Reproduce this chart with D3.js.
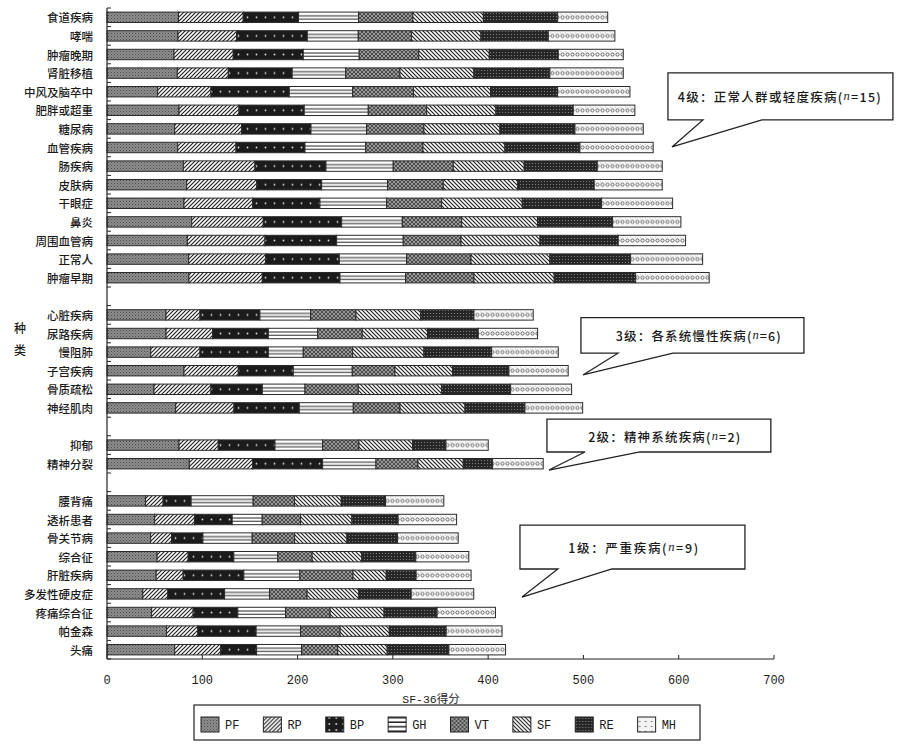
<!DOCTYPE html>
<html><head><meta charset="utf-8">
<script src="https://cdn.jsdelivr.net/npm/d3@7"></script>
<style>body{margin:0;background:#fff}svg{display:block}</style>
</head><body><svg id="chart" width="911" height="744"></svg>
<script>
// ---------------- data ----------------
const categories = ["食道疾病","哮喘","肿瘤晚期","肾脏移植","中风及脑卒中","肥胖或超重","糖尿病","血管疾病","肠疾病","皮肤病","干眼症","鼻炎","周围血管病","正常人","肿瘤早期",
  "心脏疾病","尿路疾病","慢阻肺","子宫疾病","骨质疏松","神经肌肉",
  "抑郁","精神分裂",
  "腰背痛","透析患者","骨关节病","综合征","肝脏疾病","多发性硬皮症","疼痛综合征","帕金森","头痛"];
const grades = [4,4,4,4,4,4,4,4,4,4,4,4,4,4,4, 3,3,3,3,3,3, 2,2, 1,1,1,1,1,1,1,1,1];
const seriesKeys = ["PF","RP","BP","GH","VT","SF","RE","MH"];
const PF = [75,74.5,70.3,73.8,53.2,75.6,71,74.2,80.1,83.6,80.8,88.9,84.3,85.7,86, 61.9,61.9,45.9,80.8,49.3,72.1, 75.6,86.4, 40.5,50,45.8,52.6,51.6,37.6,46.8,62.5,71];
const RP = [68,61.6,62.2,53.5,55.9,62.9,70.3,61.2,75.2,73.5,72.1,75.1,81.5,80.8,77, 35.7,49,51.7,57,59.8,61.2, 41.2,66.5, 18.4,42,22,32.6,28.3,26.3,43.6,32.8,48.3];
const BP = [58,74.1,73.5,67.1,82.2,68.5,72.8,72.4,74.5,68.2,70.6,82.3,75.2,77.3,81.5, 62.9,58.4,71.7,57.7,53.9,68.5, 59.5,73.4, 29.4,39.4,32.9,47.9,63.7,59.5,46.9,61.2,37.7];
const GH = [63,53.5,58.7,56.1,66.5,67.2,58.4,63.7,70.6,69.2,70,63.6,69.9,70.7,68.9, 53.2,51.8,36.7,61.9,44.8,56.7, 50,56, 65.1,31.5,51.7,46.2,58.8,47.2,50.1,46.6,47.3];
const VT = [57,56,62.5,57,63.8,61.3,60.1,60.1,63,58.4,57.7,62.3,60.6,67.5,71.7, 47.6,46.8,51.8,44.8,55.9,49, 38.1,44, 43.4,40.3,44.5,36,55.8,39.4,46.8,41.6,37.8];
const SF = [74,72.7,74,77.6,81,72.7,79.8,86,74.5,78.1,84.6,79.7,82.9,82.9,84.3, 67.9,68.4,74.8,60.5,87.5,68.2, 56.4,47.6, 49.1,53.8,54.9,52.1,34.9,54.3,56.6,51.6,52];
const RE = [78,70.7,72.4,79.7,70.3,81.1,78.7,78.7,76.6,80.3,83.3,78.7,82.1,84.6,85.4, 55.9,53.3,71.1,59.1,72.4,62.9, 34.9,30.8, 46.4,48.5,53,56.7,31.3,54.9,55.6,59.6,64.7];
const MH = [52.5,69.9,68.2,77,75.9,64.7,71.7,76.9,68.2,71.4,74.5,71.7,70.7,75.6,77.2, 62.2,62.3,69.9,62.2,64,60.6, 44.4,53.1, 61.2,61.4,63.8,55.6,57.7,65.7,61.3,58.7,59.5];
const xTicks = [0,100,200,300,400,500,600,700];
const xTitle = "SF-36得分";
const yTitle = ["种","类"];
// callouts: x in score units, y in slot units
const calloutTexts = ["4级：正常人群或轻度疾病(", "3级：各系统慢性疾病(", "2级：精神系统疾病(", "1级：严重疾病("];
const calloutN = ["15","6","2","9"];
const calloutGeom = [
  {x1:588.7,x2:824.8,y1:3.49,y2:6.02,b1:625.4,b2:687.3,tx:592.9,ty:7.47,textX:599,len:203},
  {x1:497.4,x2:731.4,y1:16.65,y2:18.56,b1:536.2,b2:593.9,tx:499.5,ty:19.73,textX:534,len:165},
  {x1:461.7,x2:696.7,y1:22.1,y2:23.87,b1:501.6,b2:559.3,tx:463.8,ty:24.84,textX:505,len:152},
  {x1:433.4,x2:669.5,y1:27.8,y2:30.16,b1:473.2,b2:529.9,tx:435.5,ty:31.67,textX:484,len:130}
];

// ---------------- build ----------------
const series = {PF,RP,BP,GH,VT,SF,RE,MH};
const rows = categories.map((c,i)=>{const o={name:c}; seriesKeys.forEach(k=>o[k]=series[k][i]); return o;});
const slots = [];
categories.forEach((c,i)=>{ if(i>0 && grades[i]!==grades[i-1]) slots.push("gap"+i); slots.push(c); });

const svg = d3.select("#chart");
const yTop = 8, yBottom = 659;
const x = d3.scaleLinear().domain([0,700]).range([107,774]);
const y = d3.scaleBand().domain(slots).range([yTop,yBottom]).paddingInner(0.44).paddingOuter(0.22);
const ys = d3.scaleLinear().domain([0,slots.length]).range([yTop,yBottom]);
const bw = y.bandwidth(), step = y.step();
const bandOff = y(slots[0]) - yTop;
const ink = "#1a1a1a";

// patterns
const defs = svg.append("defs");
function pat(id,w,h,yOrigin){ return defs.append("pattern").attr("id",id).attr("patternUnits","userSpaceOnUse").attr("width",w).attr("height",h).attr("x",0).attr("y",yOrigin||0); }
function simple(id){
  let p;
  if(id==="PF"){p=pat("p-PF",3,3); p.append("rect").attr("width",3).attr("height",3).attr("fill","#8e8e8e");
    p.append("rect").attr("width",1).attr("height",1).attr("fill","#4a4a4a");
    p.append("rect").attr("x",1.5).attr("y",1.5).attr("width",1).attr("height",1).attr("fill","#5a5a5a");}
  if(id==="RP"){p=pat("p-RP",4,4); p.append("rect").attr("width",4).attr("height",4).attr("fill","#fff");
    p.append("path").attr("d","M-1,1 L1,-1 M0,4 L4,0 M3,5 L5,3").attr("stroke","#222").attr("stroke-width",1.2);}
  if(id==="VT"){p=pat("p-VT",4,4); p.append("rect").attr("width",4).attr("height",4).attr("fill","#4d4d4d");
    p.append("path").attr("d","M0,0 L4,4 M4,0 L0,4").attr("stroke","#b8b8b8").attr("stroke-width",0.7);}
  if(id==="SF"){p=pat("p-SF",4,4); p.append("rect").attr("width",4).attr("height",4).attr("fill","#fff");
    p.append("path").attr("d","M-1,3 L1,5 M0,0 L4,4 M3,-1 L5,1").attr("stroke","#222").attr("stroke-width",1.2);}
  if(id==="RE"){p=pat("p-RE",3,3); p.append("rect").attr("width",3).attr("height",3).attr("fill","#262626");
    p.append("circle").attr("cx",1.5).attr("cy",1.5).attr("r",0.6).attr("fill","#8a8a8a");}
}
["PF","RP","VT","SF","RE"].forEach(simple);
let p;
// band-aligned patterns for bars
p = pat("p-BP",9,step,yTop); p.append("rect").attr("width",9).attr("height",step).attr("fill","#1b1b1b");
p.append("circle").attr("cx",4.5).attr("cy",bandOff+bw/2).attr("r",0.9).attr("fill","#ddd");
p = pat("p-GH",10,step,yTop); p.append("rect").attr("width",10).attr("height",step).attr("fill","#fff");
p.append("path").attr("d",`M0,${bandOff+bw*0.36} H10 M0,${bandOff+bw*0.66} H10`).attr("stroke","#222").attr("stroke-width",1.1);
p = pat("p-MH",5,step,yTop); p.append("rect").attr("width",5).attr("height",step).attr("fill","#fafafa");
p.append("circle").attr("cx",2.5).attr("cy",bandOff+bw/2).attr("r",1.6).attr("fill","none").attr("stroke","#444").attr("stroke-width",0.8);
p.append("circle").attr("cx",0).attr("cy",bandOff+bw*0.2).attr("r",0.5).attr("fill","#666");
// legend versions
p = pat("l-BP",7,6,717); p.append("rect").attr("width",7).attr("height",6).attr("fill","#1b1b1b");
p.append("circle").attr("cx",3.5).attr("cy",4).attr("r",0.9).attr("fill","#ddd");
p = pat("l-GH",10,4.5,717); p.append("rect").attr("width",10).attr("height",4.5).attr("fill","#fff");
p.append("rect").attr("y",3).attr("width",10).attr("height",1.5).attr("fill","#222");
p = pat("l-MH",6,5,717); p.append("rect").attr("width",6).attr("height",5).attr("fill","#f4f4f4");
p.append("circle").attr("cx",2).attr("cy",2.5).attr("r",0.7).attr("fill","#444");
const legendFill = k => (k==="BP"||k==="GH"||k==="MH") ? `url(#l-${k})` : `url(#p-${k})`;

// bars
const stack = d3.stack().keys(seriesKeys)(rows);
const g = svg.append("g");
stack.forEach(layer=>{
  g.selectAll(null).data(layer).enter().append("rect")
    .attr("x",d=>x(d[0])).attr("y",d=>y(d.data.name))
    .attr("width",d=>x(d[1])-x(d[0])).attr("height",bw)
    .attr("fill",`url(#p-${layer.key})`).attr("stroke","#2a2a2a").attr("stroke-width",1);
});

// y axis
svg.append("line").attr("x1",x(0)).attr("x2",x(0)).attr("y1",yTop).attr("y2",yBottom).attr("stroke","#222").attr("stroke-width",1.2);
svg.selectAll(null).data(d3.range(slots.length+1)).enter().append("line")
  .attr("x1",x(0)).attr("x2",x(0)+4).attr("y1",i=>ys(i)).attr("y2",i=>ys(i)).attr("stroke","#222").attr("stroke-width",1);
svg.selectAll(null).data(categories).enter().append("text")
  .attr("x",93).attr("y",d=>y(d)+bw/2).attr("text-anchor","end").attr("dominant-baseline","central")
  .attr("font-family","'Noto Sans CJK SC'").attr("font-weight",500).attr("font-size",11.5).attr("fill",ink).text(d=>d);
svg.selectAll(null).data(yTitle).enter().append("text")
  .attr("x",20).attr("y",(d,i)=>327+i*22).attr("text-anchor","middle").attr("dominant-baseline","central")
  .attr("font-family","'Noto Sans CJK SC'").attr("font-weight",500).attr("font-size",12).attr("fill",ink).text(d=>d);

// x axis
svg.append("line").attr("x1",x(0)).attr("x2",x(700)).attr("y1",yBottom).attr("y2",yBottom).attr("stroke","#222").attr("stroke-width",1.2);
svg.selectAll(null).data(xTicks).enter().append("line")
  .attr("x1",d=>x(d)).attr("x2",d=>x(d)).attr("y1",yBottom).attr("y2",yBottom-4).attr("stroke","#222");
svg.selectAll(null).data(xTicks).enter().append("text")
  .attr("x",d=>x(d)).attr("y",681).attr("text-anchor","middle").attr("dominant-baseline","central")
  .attr("font-family","'Liberation Mono'").attr("font-size",12).attr("fill",ink).text(d=>d);
svg.append("text").attr("x",431).attr("y",699).attr("text-anchor","middle").attr("dominant-baseline","central")
  .attr("font-family","'Liberation Mono','Noto Sans CJK SC'").attr("font-size",11.5).attr("fill",ink).text(xTitle);

// legend
svg.append("rect").attr("x",194).attr("y",705).attr("width",506).attr("height",35).attr("fill","#fff").attr("stroke","#222").attr("stroke-width",1.2);
const lx = d3.scaleBand().domain(seriesKeys).range([198,697]);
const lg = svg.selectAll(null).data(seriesKeys).enter().append("g").attr("transform",d=>`translate(${lx(d)+3},717)`);
lg.append("rect").attr("width",18).attr("height",15).attr("fill",legendFill).attr("stroke","#222");
lg.append("text").attr("x",24).attr("y",9).attr("dominant-baseline","central").attr("font-family","'Liberation Mono'")
  .attr("font-size",12).attr("fill",ink).text(d=>d);

// callouts
calloutGeom.forEach((c,i)=>{
  const X1=x(c.x1),X2=x(c.x2),Y1=ys(c.y1),Y2=ys(c.y2),B1=x(c.b1),B2=x(c.b2),TX=x(c.tx),TY=ys(c.ty);
  svg.append("path").attr("d",`M${X1},${Y1} H${X2} V${Y2} H${B2} L${TX},${TY} L${B1},${Y2} H${X1} Z`)
    .attr("fill","#fff").attr("stroke","#222").attr("stroke-width",1.3).attr("stroke-linejoin","miter");
  const t = svg.append("text").attr("x",x(c.textX)).attr("y",(Y1+Y2)/2).attr("dominant-baseline","central")
    .attr("font-family","'Noto Sans CJK SC'").attr("font-weight",500).attr("font-size",12.5).attr("fill",ink)
    .attr("textLength",c.len).attr("lengthAdjust","spacing");
  t.append("tspan").text(calloutTexts[i]);
  t.append("tspan").attr("font-style","italic").attr("font-family","'Liberation Serif'").text("n");
  t.append("tspan").text("="+calloutN[i]+")");
});
</script></body></html>
